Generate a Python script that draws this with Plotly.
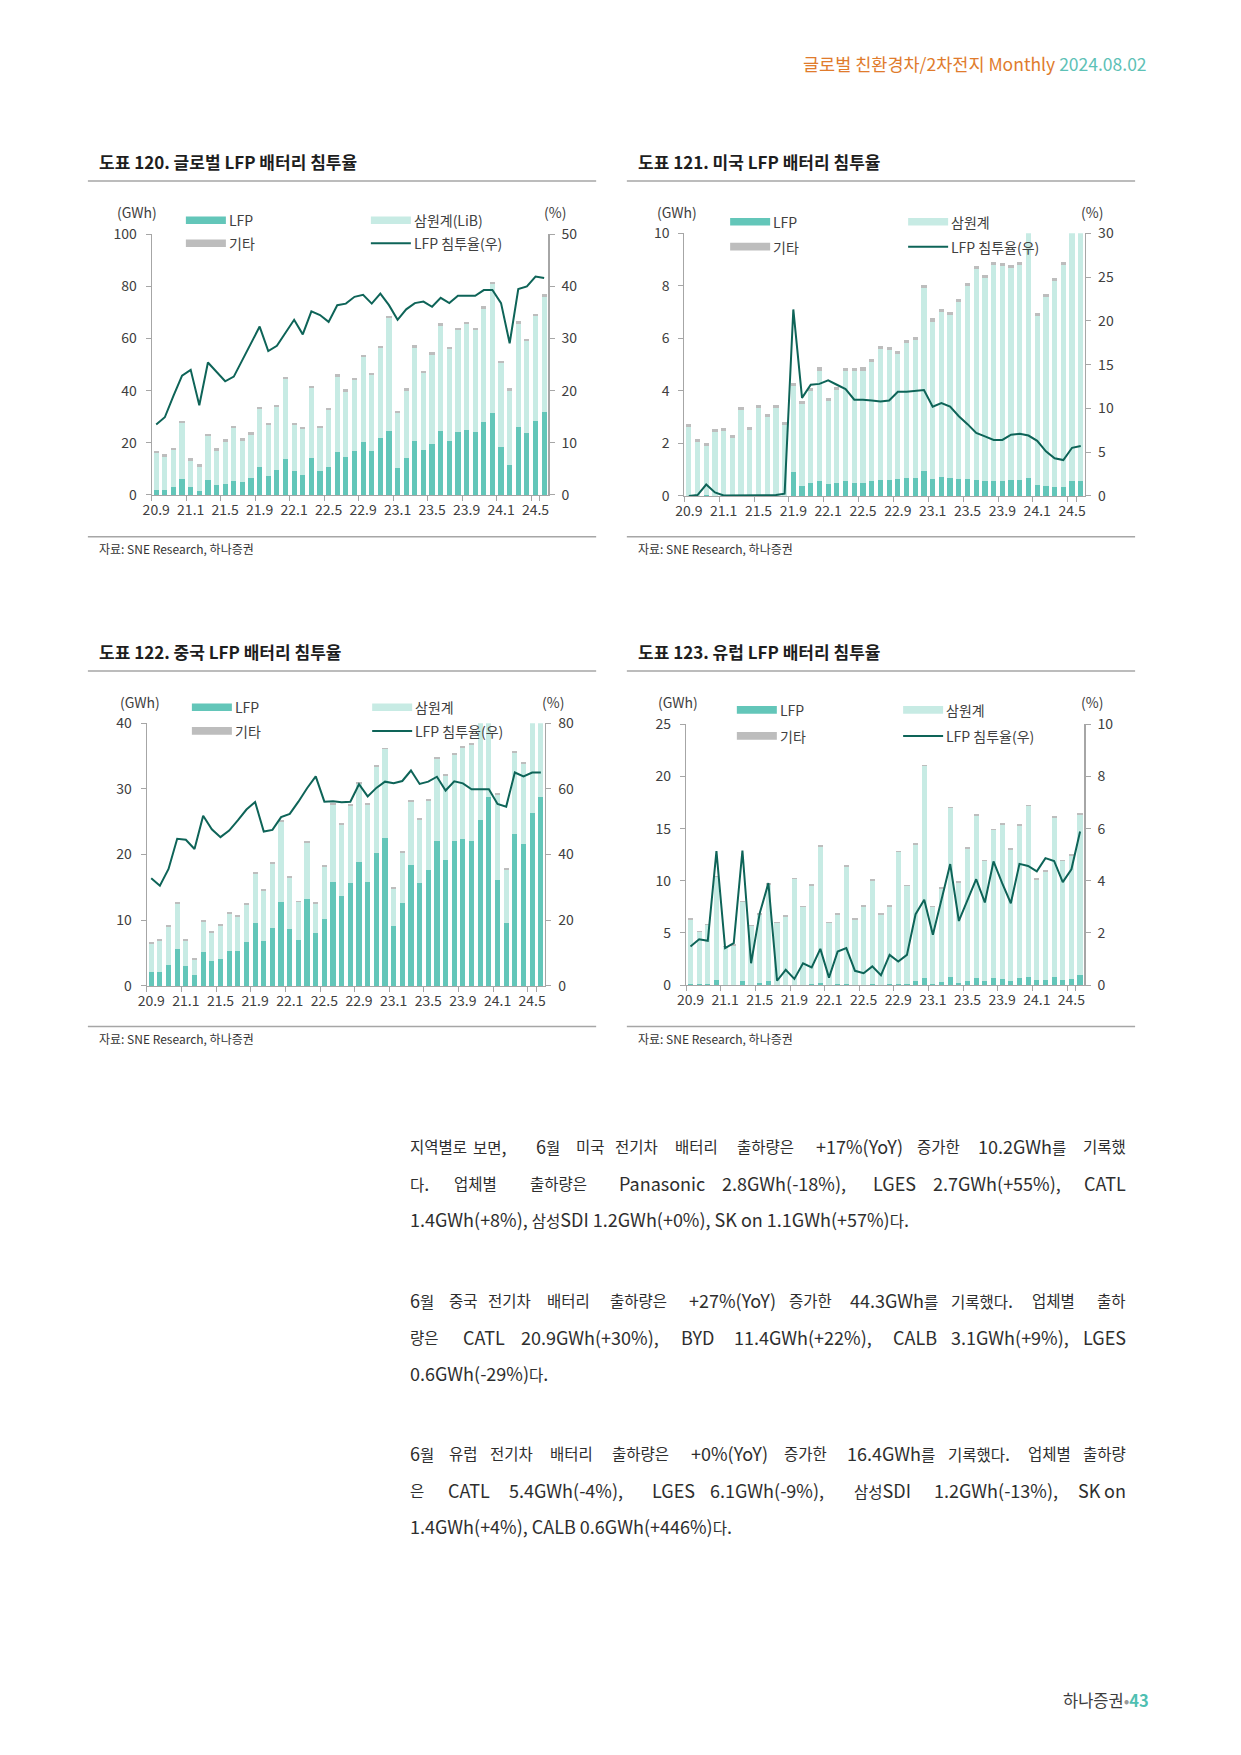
import re
import plotly.graph_objects as go

W, H = 1241, 1755          # page
PAD = 8                    # default body margin of the html page
FW, FH = W - 2 * PAD, H - 2 * PAD

# where the figure's paper edges end up in the final picture (measured)
OX0, OX1 = 16.8, 1231.9
OY0, OY1 = 19.0, 1738.2

months = ["20.9", "20.10", "20.11", "20.12",
          "21.1", "21.2", "21.3", "21.4", "21.5", "21.6", "21.7", "21.8", "21.9", "21.10", "21.11", "21.12",
          "22.1", "22.2", "22.3", "22.4", "22.5", "22.6", "22.7", "22.8", "22.9", "22.10", "22.11", "22.12",
          "23.1", "23.2", "23.3", "23.4", "23.5", "23.6", "23.7", "23.8", "23.9", "23.10", "23.11", "23.12",
          "24.1", "24.2", "24.3", "24.4", "24.5", "24.6"]
tick_labels = ["20.9", "21.1", "21.5", "21.9", "22.1", "22.5", "22.9", "23.1", "23.5", "23.9", "24.1", "24.5"]

lfp_global = [1.9, 2.0, 3.1, 6.1, 2.9, 1.5, 5.6, 3.7, 4.3, 5.5, 5.1, 6.5, 10.6, 7.3, 9.6, 13.8,
              9.1, 7.7, 14.3, 9.0, 10.7, 16.5, 14.4, 16.8, 20.3, 16.9, 21.7, 24.6,
              10.5, 14.2, 20.7, 17.3, 19.6, 24.4, 20.7, 24.2, 24.9, 24.2, 28.1, 31.6,
              18.4, 11.5, 26.1, 23.7, 28.5, 31.7]
ncm_global = [14.2, 12.7, 14.2, 21.5, 10.3, 9.4, 16.9, 13.3, 16.2, 20.1, 15.7, 16.6, 22.4, 19.5, 24.0, 30.7,
              17.7, 17.6, 26.6, 16.7, 21.9, 28.9, 25.2, 27.2, 32.5, 29.1, 34.6, 43.3,
              20.8, 25.8, 35.8, 29.4, 34.2, 40.6, 35.3, 39.1, 40.6, 39.1, 43.3, 49.2,
              32.1, 28.5, 39.6, 35.4, 40.0, 44.4]
etc_global = [0.9] * 46
rate_global = [13.5, 14.9, 19.0, 22.9, 24.0, 17.2, 25.4, 23.7, 21.8, 22.7, 25.9, 29.1, 32.3, 27.6, 28.6, 31.1,
               33.6, 30.8, 35.2, 34.5, 33.2, 36.4, 36.7, 38.0, 38.4, 36.7, 38.6, 36.4,
               33.6, 35.6, 36.8, 37.1, 36.1, 37.8, 36.8, 38.2, 38.2, 38.2, 39.3, 39.3,
               36.8, 29.1, 39.5, 40.0, 41.9, 41.6]

lfp_us = [0.0, 0.0, 0.03, 0.01, 0.0, 0.0, 0.0, 0.0, 0.0, 0.0, 0.0, 0.01, 0.9, 0.38, 0.48, 0.58,
          0.46, 0.5, 0.55, 0.5, 0.5, 0.55, 0.6, 0.6, 0.63, 0.67, 0.7, 0.95,
          0.66, 0.72, 0.69, 0.66, 0.65, 0.62, 0.55, 0.55, 0.56, 0.6, 0.62, 0.67,
          0.42, 0.36, 0.33, 0.34, 0.55, 0.55]
ncm_us = [2.61, 2.04, 1.88, 2.41, 2.46, 2.21, 3.28, 2.52, 3.34, 2.99, 3.34, 2.70, 3.27, 3.12, 3.50, 4.19,
          3.14, 3.52, 4.20, 4.25, 4.27, 4.55, 5.00, 4.94, 4.76, 5.15, 5.23, 6.95,
          5.98, 6.29, 6.18, 6.73, 7.33, 8.02, 7.73, 8.23, 8.20, 8.07, 8.16, 9.51,
          6.44, 7.20, 7.86, 8.44, 9.83, 9.63]
etc_us = [0.12] * 46
rate_us = [0.0, 0.1, 1.3, 0.4, 0.05, 0.05, 0.1, 0.05, 0.05, 0.05, 0.1, 0.25, 21.3, 11.2, 12.7, 12.8,
           13.2, 12.7, 12.2, 11.0, 11.0, 10.9, 10.8, 10.9, 11.9, 11.9, 12.0, 12.1,
           10.2, 10.6, 10.2, 9.1, 8.2, 7.2, 6.8, 6.4, 6.4, 7.0, 7.1, 6.9,
           6.3, 5.1, 4.3, 4.1, 5.5, 5.7]

lfp_cn = [2.08, 2.08, 3.25, 5.63, 3.05, 1.68, 5.13, 3.86, 4.16, 5.28, 5.33, 6.65, 9.64, 6.85, 8.88, 12.84,
          8.63, 7.06, 13.30, 8.12, 10.15, 15.79, 13.76, 15.74, 18.93, 15.79, 20.2, 22.5,
          9.19, 12.59, 18.48, 15.74, 17.6, 22.1, 19.1, 22.0, 22.4, 22.0, 25.3, 28.7,
          16.1, 9.54, 23.1, 21.6, 26.3, 28.7]
ncm_cn = [4.37, 4.78, 5.79, 6.91, 3.85, 2.33, 4.62, 4.16, 4.93, 5.74, 5.13, 5.64, 7.47, 7.57, 9.65, 12.14,
          7.82, 5.64, 8.48, 4.42, 7.93, 11.81, 10.71, 11.66, 11.87, 11.71, 13.2, 13.5,
          5.61, 7.61, 9.52, 9.56, 10.6, 12.5, 12.8, 13.2, 13.8, 14.7, 16.4, 18.0,
          12.9, 8.06, 12.4, 12.2, 13.9, 15.2]
etc_cn = [0.3] * 46
rate_cn = [32.8, 30.5, 35.6, 44.8, 44.5, 41.7, 51.8, 47.7, 45.3, 47.3, 50.4, 53.7, 56.0, 47.0, 47.5, 51.4,
           52.4, 56.1, 60.2, 63.8, 56.1, 56.2, 55.9, 56.1, 61.4, 57.7, 60.3, 62.2,
           61.7, 62.4, 65.6, 61.5, 62.2, 63.7, 59.5, 62.3, 61.7, 59.9, 59.9, 59.9,
           55.4, 54.6, 65.0, 63.8, 65.0, 65.0]

lfp_eu = [0.09, 0.09, 0.1, 0.54, 0.05, 0.06, 0.42, 0.05, 0.19, 0.38, 0.01, 0.04, 0.03, 0.06, 0.07, 0.19,
          0.02, 0.09, 0.16, 0.04, 0.04, 0.07, 0.03, 0.09, 0.12, 0.11, 0.37, 0.69,
          0.15, 0.31, 0.79, 0.25, 0.43, 0.67, 0.38, 0.71, 0.61, 0.41, 0.72, 0.79,
          0.45, 0.54, 0.77, 0.47, 0.56, 0.97]
ncm_eu = [6.16, 4.96, 5.65, 9.81, 3.60, 3.69, 7.53, 5.60, 6.56, 9.22, 5.91, 6.51, 10.12, 7.39, 9.43, 13.06,
          5.93, 6.66, 11.19, 6.21, 7.45, 9.94, 6.72, 7.40, 12.63, 9.36, 13.08, 20.26,
          7.30, 8.93, 16.16, 9.57, 12.62, 15.58, 11.47, 14.14, 14.74, 12.54, 14.53, 16.36,
          9.65, 10.31, 15.28, 11.38, 11.84, 15.38]
etc_eu = [0.15] * 46
rate_eu = [1.48, 1.76, 1.70, 5.14, 1.42, 1.61, 5.16, 0.84, 2.76, 3.91, 0.17, 0.59, 0.24, 0.84, 0.68, 1.39,
           0.29, 1.29, 1.42, 0.55, 0.46, 0.72, 0.38, 1.16, 0.91, 1.16, 2.72, 3.27,
           1.93, 3.33, 4.64, 2.46, 3.27, 4.06, 3.17, 4.74, 3.91, 3.14, 4.65, 4.57,
           4.36, 4.87, 4.76, 3.95, 4.44, 5.89]

C_LFP = "#63C6B9"
C_NCM = "#C7EBE4"
C_ETC = "#BDBDBD"
C_LINE = "#0E6458"
C_AX = "#A6A6A6"
C_TXT = "#404040"
FONT = "Noto Sans CJK KR"


def px(x):
    return (x - OX0) / (OX1 - OX0)


def py(y):
    return 1 - (y - OY0) / (OY1 - OY0)


panels = [
    dict(title="도표 120. 글로벌 LFP 배터리 침투율", data=(lfp_global, ncm_global, etc_global, rate_global),
         ncm_name="삼원계(LiB)", box=(151.7, 548.3, 234.3, 495.0), yr=(100, 20), rr=(50, 10),
         left=87.7, right=596, top_rule=181, bot_rule=536.7, title_y=161.5, src_y=549,
         leg=(185.7, 370.7, 220.3, 243.3), gwh=(136.7, 211.7), pct=(555, 211.7)),
    dict(title="도표 121. 미국 LFP 배터리 침투율", data=(lfp_us, ncm_us, etc_us, rate_us),
         ncm_name="삼원계", box=(684.3, 1085.0, 233.3, 496.0), yr=(10, 2), rr=(30, 5),
         left=626.7, right=1135, top_rule=181, bot_rule=536.7, title_y=161.5, src_y=549,
         leg=(730.0, 908.0, 221.7, 246.7), gwh=(676.7, 211.7), pct=(1091.7, 211.7)),
    dict(title="도표 122. 중국 LFP 배터리 침투율", data=(lfp_cn, ncm_cn, etc_cn, rate_cn),
         ncm_name="삼원계", box=(146.7, 545.0, 723.3, 986.0), yr=(40, 10), rr=(80, 20),
         left=87.7, right=596, top_rule=671, bot_rule=1026.7, title_y=651.5, src_y=1039,
         leg=(191.7, 372.0, 707.3, 731.0), gwh=(140.0, 701.7), pct=(553.0, 701.7)),
    dict(title="도표 123. 유럽 LFP 배터리 침투율", data=(lfp_eu, ncm_eu, etc_eu, rate_eu),
         ncm_name="삼원계", box=(686.0, 1084.3, 724.3, 985.3), yr=(25, 5), rr=(10, 2),
         left=626.7, right=1135, top_rule=671, bot_rule=1026.7, title_y=651.5, src_y=1039,
         leg=(736.7, 903.0, 710.0, 736.0), gwh=(678.3, 701.7), pct=(1091.7, 701.7)),
]

fig = go.Figure()
annotations = []
shapes = []
layout_axes = {}


def text(t, x, y, size=14, color=C_TXT, xanchor="left", yanchor="middle"):
    annotations.append(dict(text=t, x=px(x), y=py(y), xref="paper", yref="paper",
                            xanchor=xanchor, yanchor=yanchor, showarrow=False,
                            font=dict(family=FONT, size=size, color=color)))


def hline(x0, x1, y, color=C_AX, width=1.3):
    shapes.append(dict(type="line", xref="paper", yref="paper", x0=px(x0), x1=px(x1),
                       y0=py(y), y1=py(y), line=dict(color=color, width=width)))


HANGUL = re.compile(r"([\uac00-\ud7a3]+)")


def mixed(t, hsize):
    return HANGUL.sub(lambda m: f"<span style='font-size:{hsize}px'>{m.group(1)}</span>", t)


for i, p in enumerate(panels, start=1):
    xa = "x" if i == 1 else f"x{i}"
    yl = "y" if i == 1 else f"y{2 * i - 1}"
    yr_ = f"y{2 * i}"
    lfp, ncm, etc, rate = p["data"]
    fig.add_trace(go.Bar(x=months, y=lfp, marker_color=C_LFP, marker_line_width=0, xaxis=xa, yaxis=yl,
                         name="LFP", showlegend=False))
    fig.add_trace(go.Bar(x=months, y=ncm, marker_color=C_NCM, marker_line_width=0, xaxis=xa, yaxis=yl,
                         name=p["ncm_name"], showlegend=False))
    fig.add_trace(go.Bar(x=months, y=etc, marker_color=C_ETC, marker_line_width=0, xaxis=xa, yaxis=yl,
                         name="기타", showlegend=False))
    fig.add_trace(go.Scatter(x=months, y=rate, mode="lines", line=dict(color=C_LINE, width=2),
                             xaxis=xa, yaxis=yr_, name="LFP 침투율(우)", showlegend=False))

    x0, x1, yt, yb = p["box"]
    xkey = "xaxis" if i == 1 else f"xaxis{i}"
    ylkey = "yaxis" if i == 1 else f"yaxis{2 * i - 1}"
    yrkey = f"yaxis{2 * i}"
    layout_axes[xkey] = dict(domain=[px(x0), px(x1)], anchor=yl, type="category",
                             categoryorder="array", categoryarray=months,
                             tickmode="array", tickvals=tick_labels, ticktext=tick_labels,
                             tickson="boundaries", ticks="outside", ticklen=5, tickcolor=C_AX,
                             showline=True, linecolor=C_AX, linewidth=1.2, showgrid=False,
                             zeroline=False, tickangle=0, ticklabelstandoff=2,
                             tickfont=dict(family=FONT, size=14, color=C_TXT))
    layout_axes[ylkey] = dict(domain=[py(yb), py(yt)], anchor=xa, range=[0, p["yr"][0]],
                              tickmode="linear", tick0=0, dtick=p["yr"][1], ticks="outside",
                              ticklen=5, tickcolor=C_AX, showline=True, linecolor=C_AX, linewidth=1.2,
                              showgrid=False, zeroline=False, ticklabelstandoff=6,
                              tickfont=dict(family=FONT, size=14, color=C_TXT))
    layout_axes[yrkey] = dict(overlaying=yl, side="right", anchor=xa, range=[0, p["rr"][0]],
                              tickmode="linear", tick0=0, dtick=p["rr"][1], ticks="outside",
                              ticklen=5, tickcolor=C_AX, showline=True, linecolor=C_AX, linewidth=1.2,
                              showgrid=False, zeroline=False, ticklabelstandoff=4,
                              tickfont=dict(family=FONT, size=14, color=C_TXT))

    text("<b>" + p["title"] + "</b>", p["left"] + 9, p["title_y"], size=17, color="#1E1E1E")
    hline(p["left"], p["right"], p["top_rule"], width=1.5)
    hline(p["left"], p["right"], p["bot_rule"], width=1.5)
    text("자료: SNE Research, 하나증권", p["left"] + 9, p["src_y"], size=12, color="#333333")

    text("(GWh)", p["gwh"][0], p["gwh"][1], size=14, xanchor="center")
    text("(%)", p["pct"][0], p["pct"][1], size=14, xanchor="center")

    lx1, lx2, ly1, ly2 = p["leg"]
    for (sx, sy, col, label, kind) in [(lx1, ly1, C_LFP, "LFP", "bar"), (lx1, ly2, C_ETC, "기타", "bar"),
                                       (lx2, ly1, C_NCM, p["ncm_name"], "bar"),
                                       (lx2, ly2, C_LINE, "LFP 침투율(우)", "line")]:
        if kind == "bar":
            shapes.append(dict(type="rect", xref="paper", yref="paper", x0=px(sx), x1=px(sx + 40),
                               y0=py(sy + 3.8), y1=py(sy - 3.8), fillcolor=col, line=dict(width=0)))
        else:
            hline(sx, sx + 40, sy, color=col, width=2)
        text(label, sx + 41, sy, size=14)

annotations.append(dict(
    text="<span style='color:#E07B2C'>글로벌 친환경차/2차전지 Monthly</span> "
         "<span style='color:#5DC1B6'>2024.08.02</span>",
    x=px(1149), y=py(64), xref="paper", yref="paper", xanchor="right", yanchor="middle",
    showarrow=False, font=dict(family=FONT, size=17.5)))
annotations.append(dict(
    text="<span style='color:#3C3C3C'>하나증권</span><span style='color:#9A9A9A'>•</span>"
         "<span style='color:#4FBFB2'><b>43</b></span>",
    x=px(1151), y=py(1700), xref="paper", yref="paper", xanchor="right", yanchor="middle",
    showarrow=False, font=dict(family=FONT, size=16.5)))

BODY = 18
BODY_H = 15.5
BODY_C = "#2E2E2E"
R_EDGE = 1128
body_lines = [
    (1146, [("지역별로", 408), ("보면,", 471), ("6월", 534), ("미국", 574), ("전기차", 613), ("배터리", 672.5),
            ("출하량은", 735), ("+17%(YoY)", 813.5), ("증가한", 915), ("10.2GWh를", 976), ("기록했", None)]),
    (1183, [("다.", 408), ("업체별", 452), ("출하량은", 528), ("Panasonic", 617), ("2.8GWh(-18%),", 720),
            ("LGES", 871), ("2.7GWh(+55%),", 931), ("CATL", None)]),
    (1219, [("1.4GWh(+8%), 삼성SDI 1.2GWh(+0%), SK on 1.1GWh(+57%)다.", 408)]),
    (1300, [("6월", 408), ("중국", 446.5), ("전기차", 486), ("배터리", 545), ("출하량은", 608),
            ("+27%(YoY)", 687), ("증가한", 786.5), ("44.3GWh를", 848), ("기록했다.", 949), ("업체별", 1029.5),
            ("출하", None)]),
    (1337, [("량은", 408), ("CATL", 461), ("20.9GWh(+30%),", 519), ("BYD", 679), ("11.4GWh(+22%),", 732),
            ("CALB", 891), ("3.1GWh(+9%),", 949), ("LGES", None)]),
    (1373, [("0.6GWh(-29%)다.", 408)]),
    (1453, [("6월", 408), ("유럽", 447), ("전기차", 488), ("배터리", 548), ("출하량은", 610),
            ("+0%(YoY)", 689), ("증가한", 782), ("16.4GWh를", 844.5), ("기록했다.", 946), ("업체별", 1026),
            ("출하량", None)]),
    (1490, [("은", 408), ("CATL", 446), ("5.4GWh(-4%),", 507), ("LGES", 650), ("6.1GWh(-9%),", 708),
            ("삼성SDI", 852), ("1.2GWh(-13%),", 932), ("SK", 1076), ("on", None)]),
    (1526, [("1.4GWh(+4%), CALB 0.6GWh(+446%)다.", 408)]),
]
for y, words in body_lines:
    for w, x in words:
        t = mixed(w, BODY_H)
        if x is None:
            text(t, R_EDGE, y, size=BODY, color=BODY_C, xanchor="right")
        else:
            text(t, x, y, size=BODY, color=BODY_C, xanchor="left")

fig.update_layout(
    width=FW, height=FH, autosize=False,
    margin=dict(l=0, r=0, t=0, b=0),
    paper_bgcolor="white", plot_bgcolor="white",
    barmode="stack", bargap=0.4,
    showlegend=False,
    font=dict(family=FONT, color=C_TXT),
    annotations=annotations, shapes=shapes,
    hovermode=False,
    **layout_axes,
)

fig.write_html("out.html", config={"displayModeBar": False, "staticPlot": True})
